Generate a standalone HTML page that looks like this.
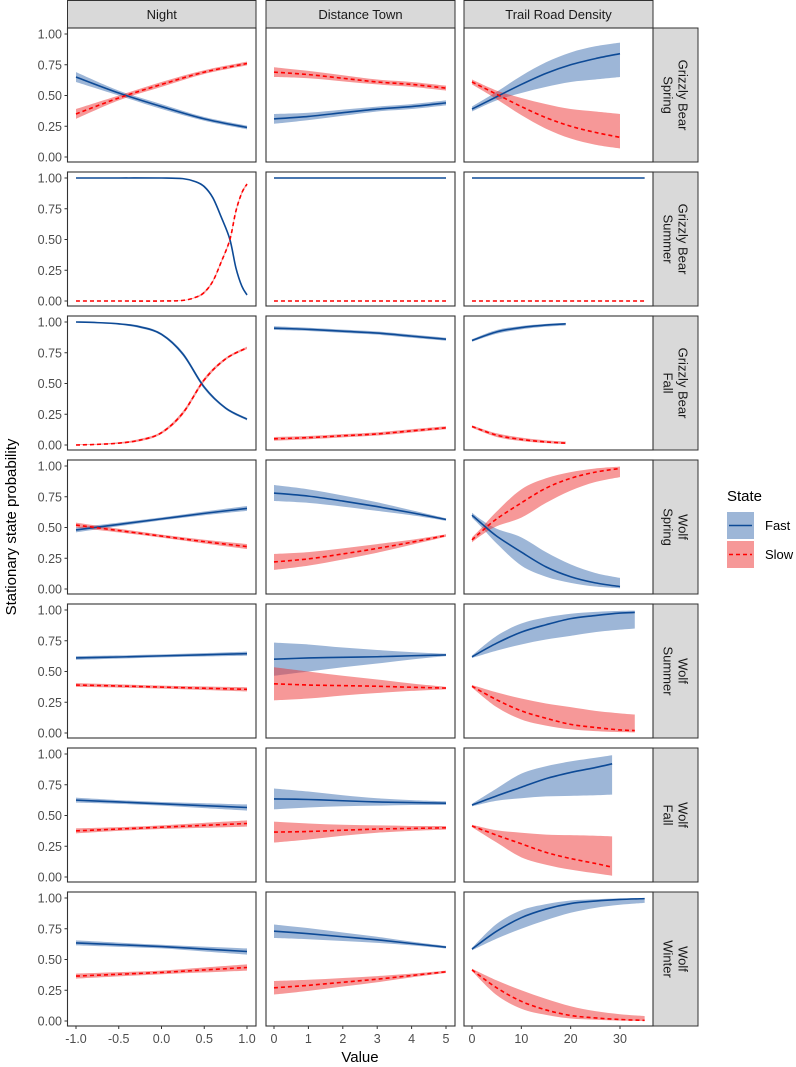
<!DOCTYPE html>
<html><head><meta charset="utf-8"><style>
html,body{margin:0;padding:0;background:#fff;}
svg{display:block;font-family:"Liberation Sans",Arial,sans-serif;}
</style></head><body>
<svg id="chart" width="796" height="1067" viewBox="0 0 796 1067" xmlns="http://www.w3.org/2000/svg"></svg>
<script>
// ---- data ----
const colNames = ["Night","Distance Town","Trail Road Density"];
const rowNames = [["Grizzly Bear","Spring"],["Grizzly Bear","Summer"],["Grizzly Bear","Fall"],["Wolf","Spring"],["Wolf","Summer"],["Wolf","Fall"],["Wolf","Winter"]];
const yTicks = [0,0.25,0.5,0.75,1];
const yTickLabels = ["0.00","0.25","0.50","0.75","1.00"];
const xTicks = [[-1,-0.5,0,0.5,1],[0,1,2,3,4,5],[0,10,20,30]];
const xTickLabels = [["-1.0","-0.5","0.0","0.5","1.0"],["0","1","2","3","4","5"],["0","10","20","30"]];
// each panel: x values, fast mean, fast lower, fast upper (slow = 1 - fast)
const nightX = [-1,-0.5,0,0.5,1];
const distX = [0,1,2,3,4,5];
const gsNightX = [-1,-0.5,0,0.25,0.4,0.5,0.6,0.7,0.8,0.87,0.94,1];
const gfNightX = [-1,-0.75,-0.5,-0.25,0,0.25,0.5,0.75,1];
const panels = [
 [{x:nightX,m:[0.65,0.52,0.41,0.31,0.24],lo:[0.61,0.50,0.39,0.295,0.225],hi:[0.69,0.54,0.43,0.325,0.255]},
  {x:distX,m:[0.31,0.33,0.36,0.39,0.41,0.44],lo:[0.27,0.30,0.335,0.37,0.39,0.42],hi:[0.35,0.36,0.385,0.41,0.43,0.46]},
  {x:[0,5,10,15,20,25,30],m:[0.39,0.49,0.59,0.68,0.75,0.80,0.84],lo:[0.37,0.46,0.52,0.57,0.61,0.63,0.65],hi:[0.41,0.53,0.66,0.77,0.85,0.90,0.93]}],
 [{x:gsNightX,m:[1,1,1,0.995,0.97,0.93,0.84,0.68,0.5,0.27,0.12,0.05],lo:[1,1,1,0.993,0.965,0.92,0.83,0.67,0.49,0.26,0.11,0.04],hi:[1,1,1,0.997,0.975,0.94,0.85,0.69,0.51,0.28,0.13,0.06]},
  {x:distX,m:[1,1,1,1,1,1],lo:[1,1,1,1,1,1],hi:[1,1,1,1,1,1]},
  {x:[0,35],m:[1,1],lo:[1,1],hi:[1,1]}],
 [{x:gfNightX,m:[1.0,0.995,0.985,0.96,0.9,0.74,0.47,0.30,0.21],lo:[0.995,0.99,0.978,0.95,0.89,0.725,0.455,0.29,0.20],hi:[1.0,0.998,0.99,0.97,0.91,0.755,0.485,0.31,0.22]},
  {x:distX,m:[0.95,0.94,0.925,0.91,0.885,0.86],lo:[0.935,0.927,0.912,0.897,0.872,0.848],hi:[0.965,0.953,0.938,0.923,0.898,0.872]},
  {x:[0,5,10,15,19],m:[0.85,0.92,0.955,0.975,0.985],lo:[0.84,0.905,0.94,0.962,0.972],hi:[0.86,0.935,0.968,0.985,0.993]}],
 [{x:nightX,m:[0.48,0.525,0.57,0.615,0.655],lo:[0.46,0.51,0.558,0.6,0.635],hi:[0.50,0.54,0.582,0.63,0.675]},
  {x:distX,m:[0.78,0.755,0.715,0.67,0.62,0.565],lo:[0.715,0.70,0.67,0.635,0.60,0.555],hi:[0.845,0.81,0.76,0.705,0.64,0.575]},
  {x:[0,2,5,10,15,20,25,30],m:[0.60,0.53,0.43,0.30,0.18,0.10,0.05,0.02],lo:[0.58,0.50,0.37,0.19,0.10,0.05,0.02,0.005],hi:[0.62,0.56,0.49,0.42,0.30,0.20,0.13,0.09]}],
 [{x:nightX,m:[0.61,0.618,0.627,0.636,0.645],lo:[0.595,0.605,0.615,0.622,0.628],hi:[0.625,0.631,0.639,0.65,0.662]},
  {x:distX,m:[0.60,0.61,0.615,0.62,0.628,0.635],lo:[0.465,0.50,0.535,0.565,0.598,0.625],hi:[0.735,0.72,0.695,0.675,0.658,0.645]},
  {x:[0,5,10,15,20,25,30,33],m:[0.62,0.73,0.82,0.88,0.93,0.955,0.975,0.98],lo:[0.61,0.67,0.72,0.76,0.79,0.82,0.84,0.85],hi:[0.63,0.79,0.89,0.94,0.97,0.985,0.993,0.995]}],
 [{x:nightX,m:[0.625,0.61,0.595,0.58,0.565],lo:[0.605,0.595,0.58,0.56,0.54],hi:[0.645,0.625,0.61,0.60,0.59]},
  {x:distX,m:[0.635,0.63,0.62,0.61,0.605,0.60],lo:[0.55,0.565,0.575,0.58,0.585,0.585],hi:[0.72,0.695,0.665,0.64,0.625,0.615]},
  {x:[0,5,10,15,20,25,28.4],m:[0.585,0.66,0.73,0.80,0.85,0.89,0.92],lo:[0.575,0.62,0.64,0.655,0.66,0.665,0.67],hi:[0.595,0.72,0.84,0.90,0.94,0.97,0.99]}],
 [{x:nightX,m:[0.635,0.62,0.605,0.585,0.565],lo:[0.615,0.603,0.59,0.565,0.54],hi:[0.655,0.637,0.62,0.605,0.59]},
  {x:distX,m:[0.73,0.71,0.685,0.66,0.63,0.60],lo:[0.675,0.665,0.65,0.635,0.615,0.59],hi:[0.785,0.755,0.72,0.685,0.645,0.61]},
  {x:[0,5,10,15,20,25,30,35],m:[0.585,0.73,0.84,0.91,0.955,0.975,0.988,0.995],lo:[0.575,0.67,0.75,0.82,0.88,0.92,0.945,0.96],hi:[0.595,0.79,0.90,0.95,0.98,0.99,0.997,1.0]}]
];
// ---- layout ----
const NS="http://www.w3.org/2000/svg";
const svg=document.getElementById('chart');
const colL=[67.5,266,464], colW=[188.5,189,189];
const rowT0=28, rowStep=144, rowH=134;
const xScales=[v=>76+(v+1)*85.5, v=>274+v*34.4, v=>472+v*4.933];
function yScale(r,v){return rowT0+r*rowStep+6+(1-v)*123;}
function mk(tag,attrs,parent){const e=document.createElementNS(NS,tag);for(const k in attrs)e.setAttribute(k,attrs[k]);(parent||svg).appendChild(e);return e;}
// smooth Catmull-Rom segments (without the leading move)
function smoothSeg(xs,ys){
  let d='';
  for(let i=0;i<xs.length-1;i++){
    const x0=xs[Math.max(i-1,0)],y0=ys[Math.max(i-1,0)];
    const x1=xs[i],y1=ys[i],x2=xs[i+1],y2=ys[i+1];
    const x3=xs[Math.min(i+2,xs.length-1)],y3=ys[Math.min(i+2,xs.length-1)];
    const c1x=x1+(x2-x0)/6,c1y=y1+(y2-y0)/6,c2x=x2-(x3-x1)/6,c2y=y2-(y3-y1)/6;
    d+=`C${c1x.toFixed(2)},${c1y.toFixed(2)} ${c2x.toFixed(2)},${c2y.toFixed(2)} ${x2.toFixed(2)},${y2.toFixed(2)}`;
  }
  return d;
}
function smoothLine(xs,ys){return `M${xs[0].toFixed(2)},${ys[0].toFixed(2)}`+smoothSeg(xs,ys);}
function smoothBand(xs,ya,yb){
  const rx=xs.slice().reverse(), ryb=yb.slice().reverse();
  return smoothLine(xs,ya)+`L${rx[0].toFixed(2)},${ryb[0].toFixed(2)}`+smoothSeg(rx,ryb)+'Z';
}

colNames.forEach((n,c)=>{
  const g=mk('g',{});
  
  
  mk('rect',{x:colL[c],y:0.5,width:colW[c],height:27.5,fill:'#d9d9d9',stroke:'#333','stroke-width':1},g);
  const t=mk('text',{x:colL[c]+colW[c]/2,y:19,'text-anchor':'middle','font-size':13,fill:'#1a1a1a'},g);t.textContent=n;
});

rowNames.forEach((rn,r)=>{
  const top=rowT0+r*rowStep;
  const g=mk('g',{});
  
  
  mk('rect',{x:653,y:top,width:45,height:rowH,fill:'#d9d9d9',stroke:'#333','stroke-width':1},g);
  const cx=675.5, cy=top+rowH/2;
  const t=mk('text',{transform:`translate(${cx},${cy}) rotate(90)`,'text-anchor':'middle','font-size':13,fill:'#1a1a1a'},g);
  const t1=mk('tspan',{x:0,y:-3},t);t1.textContent=rn[0];
  const t2=mk('tspan',{x:0,y:12},t);t2.textContent=rn[1];
  const ya=mk('g',{});
  
  
  yTicks.forEach((v,i)=>{
    const y=yScale(r,v);
    mk('line',{x1:64.5,x2:67.5,y1:y,y2:y,stroke:'#333','stroke-width':1},ya);
    const tl=mk('text',{x:62,y:y+4.5,'text-anchor':'end','font-size':12.5,fill:'#4d4d4d'},ya);tl.textContent=yTickLabels[i];
  });
  for(let c=0;c<3;c++){
    const p=panels[r][c], xs=p.x.map(xScales[c]);
    const pg=mk('g',{});
    
    
    mk('rect',{x:colL[c],y:top,width:colW[c],height:rowH,fill:'#fff'},pg);
    const sHi=p.lo.map(v=>yScale(r,1-v)), sLo=p.hi.map(v=>yScale(r,1-v));
    const fHi=p.hi.map(v=>yScale(r,v)), fLo=p.lo.map(v=>yScale(r,v));
    const fb=mk('path',{d:smoothBand(xs,fHi,fLo),fill:'rgb(60,110,175)','fill-opacity':0.5},pg);
    
    
    const sb=mk('path',{d:smoothBand(xs,sHi,sLo),fill:'rgb(238,50,50)','fill-opacity':0.5},pg);
    
    
    const fl=mk('path',{d:smoothLine(xs,p.m.map(v=>yScale(r,v))),fill:'none',stroke:'#0d4a96','stroke-width':1.6},pg);
    
    
    const sl=mk('path',{d:smoothLine(xs,p.m.map(v=>yScale(r,1-v))),fill:'none',stroke:'#ff0000','stroke-width':1.6,'stroke-dasharray':'4,3'},pg);
    
    
    mk('rect',{x:colL[c],y:top,width:colW[c],height:rowH,fill:'none',stroke:'#333','stroke-width':1.1},pg);
  }
});
const bottom=rowT0+6*rowStep+rowH;
for(let c=0;c<3;c++){
  const xa=mk('g',{});
  
  
  xTicks[c].forEach((v,i)=>{
    const x=xScales[c](v);
    mk('line',{x1:x,x2:x,y1:bottom,y2:bottom+3,stroke:'#333','stroke-width':1},xa);
    const tl=mk('text',{x:x,y:bottom+17,'text-anchor':'middle','font-size':12.5,fill:'#4d4d4d'},xa);tl.textContent=xTickLabels[c][i];
  });
}
</script>
<div style="position:absolute;left:0;top:0;width:796px;height:1067px;pointer-events:none">
<svg width="796" height="1067" style="position:absolute;left:0;top:0">
<text x="360" y="1062" text-anchor="middle" font-size="15" fill="#000" font-family="Liberation Sans, sans-serif">Value</text>
<text transform="translate(16,527) rotate(-90)" text-anchor="middle" font-size="15" fill="#000" font-family="Liberation Sans, sans-serif">Stationary state probability</text>
<g font-family="Liberation Sans, sans-serif">
<text x="727" y="501" font-size="15" fill="#000">State</text>
<g>
<rect x="727" y="512" width="27" height="27" fill="rgb(60,110,175)" fill-opacity="0.5"/>
<line x1="729" x2="752" y1="525.5" y2="525.5" stroke="#0d4a96" stroke-width="1.6"/>
<text x="765" y="530" font-size="13" fill="#000">Fast</text>
</g>
<g>
<rect x="727" y="541" width="27" height="27" fill="rgb(238,50,50)" fill-opacity="0.5"/>
<line x1="729" x2="752" y1="554.5" y2="554.5" stroke="#ff0000" stroke-width="1.6" stroke-dasharray="4,3"/>
<text x="765" y="559" font-size="13" fill="#000">Slow</text>
</g>
</g>
</svg>
</div>
</body></html>
